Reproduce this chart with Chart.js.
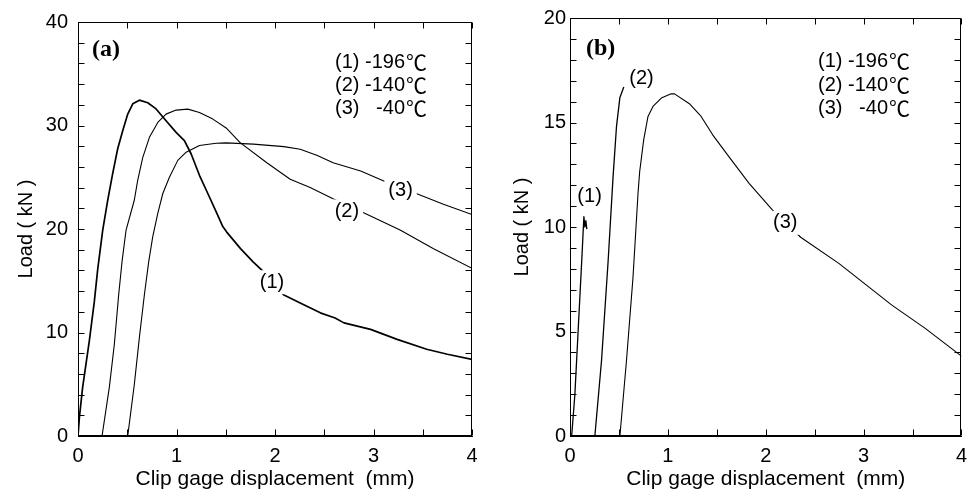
<!DOCTYPE html>
<html>
<head>
<meta charset="utf-8">
<script src="https://cdn.jsdelivr.net/npm/chart.js@4"></script>
<style>
  html, body { margin:0; padding:0; background:#fff; }
  #wrap { position:relative; width:975px; height:496px; overflow:hidden; }
  #ca { position:absolute; left:0; top:0; }
  #cb { position:absolute; left:490px; top:0; }
</style>
</head>
<body>
<div id="wrap">
  <canvas id="ca" width="490" height="496"></canvas>
  <canvas id="cb" width="485" height="496"></canvas>
</div>
<script>
// ---------- data ----------
// Panel (a)
const a1X = [0, 0.014, 0.047, 0.115, 0.166, 0.2, 0.251, 0.302, 0.352, 0.403, 0.454, 0.505, 0.556, 0.623, 0.708, 0.793, 0.894, 0.996, 1.08, 1.148, 1.233, 1.318, 1.402, 1.47, 1.51, 1.65, 1.78, 1.88, 2.086, 2.256, 2.46, 2.61, 2.70, 2.97, 3.24, 3.54, 3.75, 4.0];
const a1Y = [0, 1.8, 4.7, 9.2, 13.0, 16.1, 19.9, 22.8, 25.35, 27.75, 29.5, 31.1, 32.1, 32.45, 32.2, 31.6, 30.46, 29.34, 28.54, 27.27, 25.19, 23.43, 21.67, 20.23, 19.7, 18.1, 16.8, 15.9, 13.65, 12.85, 11.9, 11.4, 10.93, 10.3, 9.34, 8.38, 7.9, 7.4];
const a2X = [0.244, 0.318, 0.369, 0.413, 0.447, 0.488, 0.572, 0.606, 0.657, 0.725, 0.81, 0.894, 0.996, 1.115, 1.233, 1.369, 1.504, 1.646, 1.917, 2.154, 2.357, 2.594, 2.916, 3.27, 3.61, 4.0];
const a2Y = [0, 4.7, 8.86, 13.65, 16.85, 19.9, 22.8, 24.7, 26.9, 28.86, 30.3, 31.1, 31.49, 31.58, 31.26, 30.62, 29.76, 28.34, 26.4, 24.8, 24.0, 22.9, 21.5, 19.9, 18.1, 16.2];
const a3X = [0.505, 0.572, 0.623, 0.674, 0.718, 0.759, 0.81, 0.861, 0.928, 1.013, 1.098, 1.233, 1.402, 1.504, 1.78, 2.09, 2.256, 2.43, 2.59, 2.87, 3.14, 3.44, 3.71, 4.0];
const a3Y = [0, 5.0, 9.5, 13.65, 16.85, 19.27, 21.5, 23.43, 25.0, 26.63, 27.42, 28.06, 28.28, 28.32, 28.2, 27.96, 27.7, 27.1, 26.4, 25.6, 24.5, 23.4, 22.4, 21.4];
// Panel (b)
const b1X = [0.017, 0.05, 0.085, 0.12, 0.142, 0.152, 0.162, 0.172];
const b1Y = [0, 2.0, 5.2, 8.4, 10.5, 10.0, 10.3, 9.9];
const b2X = [0.254, 0.322, 0.39, 0.44, 0.475, 0.51, 0.55];
const b2Y = [0, 3.6, 8.4, 12.4, 14.8, 16.2, 16.7];
const b3X = [0.51, 0.577, 0.644, 0.695, 0.712, 0.753, 0.797, 0.848, 0.933, 1.034, 1.068, 1.22, 1.34, 1.458, 1.61, 1.83, 2.07, 2.357, 2.747, 3.289, 3.63, 4.0];
const b3Y = [0, 3.6, 7.6, 11.6, 12.65, 14.17, 15.29, 15.77, 16.17, 16.37, 16.37, 15.9, 15.29, 14.41, 13.45, 12.09, 10.81, 9.51, 8.26, 6.26, 5.15, 3.82];

// Legend / labels text
const seriesTags = ['(1)', '(2)', '(3)'];
const seriesTemps = ['-196', '-140', '-40'];
const degSign = '\u2103';
const xTitle = 'Clip gage displacement  (mm)';
const yTitle = 'Load ( kN )';

// ---------- helpers ----------
const SANS = '"Liberation Sans", Arial, Helvetica, sans-serif';
const CJK = '"Noto Sans CJK JP", "Noto Sans CJK SC", "DejaVu Sans", sans-serif';
function pts(xs, ys) { return xs.map((x, i) => ({x: x, y: ys[i]})); }
function ds(xs, ys, w) {
  return { data: pts(xs, ys), showLine: true, borderColor: '#000', borderWidth: w,
           pointRadius: 0, fill: false, tension: 0, borderJoinStyle: 'round' };
}

const framePlugin = {
  id: 'frame',
  afterDraw(chart) {
    const {ctx, chartArea: ca, scales: {x, y}} = chart;
    const L = 6;
    ctx.save();
    ctx.strokeStyle = '#000';
    ctx.lineWidth = 1;
    const l = Math.round(ca.left) + 0.5, r = Math.round(ca.right) - 0.5;
    const t = Math.round(ca.top) + 0.5, b = Math.round(ca.bottom) - 0.5;
    ctx.strokeRect(l, t, r - l, b - t);
    ctx.beginPath();
    x.ticks.forEach(tk => {
      const p = Math.round(x.getPixelForValue(tk.value)) + 0.5;
      ctx.moveTo(p, b); ctx.lineTo(p, b - L);
      ctx.moveTo(p, t); ctx.lineTo(p, t + L);
    });
    y.ticks.forEach(tk => {
      const p = Math.round(y.getPixelForValue(tk.value)) + 0.5;
      ctx.moveTo(l, p); ctx.lineTo(l + L, p);
      ctx.moveTo(r, p); ctx.lineTo(r - L, p);
    });
    ctx.stroke();
    ctx.restore();
  }
};

const notesPlugin = {
  id: 'notes',
  afterDatasetsDraw(chart, args, o) {
    const {ctx, scales: {x, y}} = chart;
    ctx.save();
    // curve labels with white backing
    ctx.font = '20px ' + SANS;
    ctx.textAlign = 'center';
    ctx.textBaseline = 'middle';
    o.labels.forEach(lb => {
      const px = x.getPixelForValue(lb.x), py = y.getPixelForValue(lb.y);
      const w = ctx.measureText(lb.text).width;
      if (lb.bg) {
        ctx.fillStyle = '#fff';
        ctx.fillRect(px - w / 2 - 4, py - 12, w + 8, 24);
      }
      ctx.fillStyle = '#000';
      ctx.fillText(lb.text, px, py);
    });
    // panel letter
    ctx.font = 'bold 24px "Liberation Serif", "Times New Roman", serif';
    ctx.textAlign = 'left';
    ctx.fillText(o.panel, o.panelX, o.panelY);
    // legend block
    seriesTags.forEach((tag, i) => {
      const yy = o.legY[i];
      ctx.font = '20px ' + SANS;
      ctx.textAlign = 'left';
      ctx.fillText(tag, o.legL, yy);
      ctx.textAlign = 'right';
      ctx.fillText(seriesTemps[i], o.legNum, yy);
      ctx.font = '21px ' + CJK;
      ctx.textAlign = 'left';
      ctx.fillText(degSign, o.legNum + 1, yy);
    });
    ctx.restore();
  }
};

function makeChart(id, cfg) {
  const tickFont = {family: SANS, size: 20};
  return new Chart(document.getElementById(id), {
    type: 'scatter',
    data: { datasets: cfg.datasets },
    options: {
      responsive: false,
      animation: false,
      events: [],
      layout: { padding: { left: 0, top: cfg.padTop, right: cfg.padRight, bottom: 0 } },
      plugins: {
        legend: { display: false },
        tooltip: { enabled: false },
        notes: cfg.notes
      },
      scales: {
        x: {
          type: 'linear', min: 0, max: 4,
          afterFit: s => { s.height = cfg.xHeight; },
          grid: { display: true, drawOnChartArea: false, drawTicks: false },
          border: { display: true, color: '#000', width: 1 },
          ticks: {
            stepSize: 0.5, padding: 8, color: '#000', font: tickFont, maxRotation: 0, autoSkip: false,
            callback: v => (Math.abs(v - Math.round(v)) < 1e-9 ? String(Math.round(v)) : '')
          },
          title: { display: true, text: xTitle, color: '#000', font: {family: SANS, size: 21},
                   padding: { top: 0, bottom: 4 } }
        },
        y: {
          type: 'linear', min: 0, max: cfg.yMax,
          afterFit: s => { s.width = cfg.yWidth; },
          grid: { display: true, drawOnChartArea: false, drawTicks: false },
          border: { display: true, color: '#000', width: 1 },
          ticks: {
            stepSize: cfg.yMinor, padding: cfg.yPad, color: '#000', font: tickFont, autoSkip: false,
            callback: v => (Math.abs(v / cfg.yMajor - Math.round(v / cfg.yMajor)) < 1e-9 ? String(v) : '')
          },
          title: { display: true, text: yTitle, color: '#000', font: {family: SANS, size: 20},
                   padding: { top: cfg.yTitlePad, bottom: 0 } }
        }
      }
    },
    plugins: [framePlugin, notesPlugin]
  });
}

makeChart('ca', {
  datasets: [ds(a1X, a1Y, 1.7), ds(a2X, a2Y, 1.1), ds(a3X, a3Y, 1.1)],
  padTop: 18, padRight: 18, xHeight: 60, yWidth: 78, yMax: 40, yMinor: 2, yMajor: 10, yPad: 10, yTitlePad: 14,
  notes: {
    labels: [
      {text: '(1)', x: 1.97, y: 14.86, bg: true},
      {text: '(2)', x: 2.73, y: 21.7, bg: true},
      {text: '(3)', x: 3.275, y: 23.7, bg: true}
    ],
    panel: '(a)', panelX: 92, panelY: 50,
    legL: 335, legNum: 405, legY: [62, 85, 108]
  }
});

makeChart('cb', {
  datasets: [ds(b1X, b1Y, 1.3), ds(b2X, b2Y, 1.3), ds(b3X, b3Y, 1.1)],
  padTop: 18, padRight: 12, xHeight: 60, yWidth: 80, yMax: 20, yMinor: 1, yMajor: 5, yPad: 4, yTitlePad: 20,
  notes: {
    labels: [
      {text: '(1)', x: 0.20, y: 11.45, bg: false},
      {text: '(2)', x: 0.73, y: 17.1, bg: false},
      {text: '(3)', x: 2.20, y: 10.2, bg: true}
    ],
    panel: '(b)', panelX: 96, panelY: 49,
    legL: 328, legNum: 398, legY: [61, 85, 108]
  }
});
</script>
</body>
</html>
